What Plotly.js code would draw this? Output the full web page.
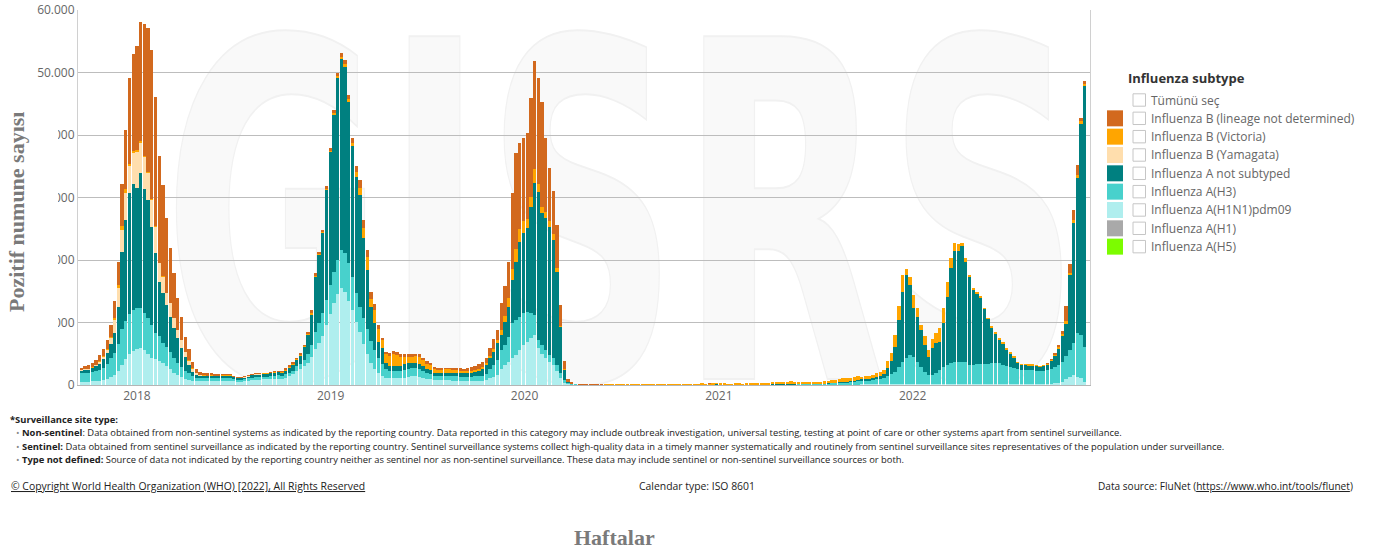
<!DOCTYPE html>
<html><head><meta charset="utf-8">
<script src="https://cdn.plot.ly/plotly-3.0.1.min.js"></script>
<style>html,body{margin:0;padding:0;background:#fff;}#chart{width:1373px;height:554px;}</style>
</head><body><div id="chart"></div>
<script>
// ISO weeks, first bar = 2017-W38 (Monday 2017-09-18), one value per week
const firstWeek = Date.UTC(2017, 8, 18);
const yearTickDates = ['2018-01-01','2019-01-01','2020-01-01','2021-01-01','2022-01-01'];
const yearTickLabels = ['2018','2019','2020','2021','2022'];

const h1n1pdm09 = [
500,500,500,600,600,700,800,1000,1300,1600,
2300,3200,4200,5000,5500,5800,5900,5600,5000,4300,
4100,3800,3500,3000,2500,2000,1600,1300,1000,800,
700,600,600,600,600,600,600,600,650,650,
650,600,550,550,600,700,800,850,850,900,
900,950,1000,1000,1000,1200,1400,1700,2200,2600,
3000,3600,4500,5800,6800,7800,9600,11300,13200,14600,
15500,14900,13500,12000,10100,8500,6600,5000,3500,2600,
2000,1500,1200,1100,1100,1100,1100,1200,1300,1400,
1400,1300,1200,1000,900,800,800,800,800,800,
700,700,600,600,600,600,600,600,700,800,
1100,1300,1600,2500,3200,3700,4300,4800,5600,6400,
6900,7500,8000,6000,5000,4400,3700,3200,2300,1200,
300,100,50,50,20,20,20,20,20,20,
20,10,10,10,10,10,10,10,10,10,
10,10,10,10,10,10,10,10,10,10,
10,10,10,10,10,10,10,10,10,10,
10,10,10,10,10,10,10,10,10,10,
10,10,10,10,10,10,10,10,10,10,
10,10,10,10,10,10,10,10,10,10,
10,10,20,20,30,30,40,50,60,80,
100,100,100,100,100,100,100,100,100,150,
200,200,200,200,200,200,200,200,150,150,
150,200,200,200,200,200,200,200,200,200,
200,200,200,200,200,200,200,200,200,200,
200,200,200,200,200,200,200,200,200,200,
200,200,300,400,500,1000,1300,1600,1300,1100,
500];

const h3 = [
1400,1500,1500,1500,1600,1700,2000,2400,3100,3600,
4200,5700,6100,6400,6500,6500,6400,6000,5800,5300,
4300,4000,3200,3100,2800,2300,1900,1600,1200,1100,
700,600,500,500,500,500,450,450,450,450,
450,350,300,300,300,350,400,400,400,400,
400,450,500,550,500,600,600,600,800,800,
1000,1400,1900,2700,3200,3700,4000,4700,4900,5400,
6100,6200,6000,5300,4600,4000,4100,4000,3500,3000,
2300,1900,1400,1200,1100,1100,1100,1200,1300,1300,
1300,1200,1100,1000,900,700,600,600,700,700,
700,700,700,700,700,700,800,800,800,900,
1500,1900,2400,3100,3200,4000,5600,5600,5300,5100,
4800,4000,3200,1200,1400,1200,1100,1100,900,700,
500,200,100,50,20,20,20,20,20,20,
20,20,20,20,20,20,20,20,20,20,
20,20,20,20,20,20,30,30,30,30,
30,30,30,30,30,30,30,30,30,30,
30,40,30,30,30,30,30,30,30,30,
30,30,30,30,30,30,50,50,50,50,
50,50,50,80,80,80,80,80,80,80,
150,200,250,250,300,350,350,400,450,500,
600,600,600,700,800,800,1000,1300,1600,1950,
2700,3500,4100,4600,4300,3500,2700,1900,1450,1450,
1750,2200,2700,3000,3300,3500,3500,3500,3500,3000,
3000,3100,3100,3100,3200,3300,3400,3300,3000,2900,
2700,2500,2300,2200,2200,2200,2200,2100,2000,2100,
2200,2400,2600,2800,3200,3600,4300,5100,7000,6900,
5600];

const aNotSubtyped = [
400,400,400,600,800,1000,1300,1700,2200,3200,
6000,12400,16100,19300,20200,19200,21600,19700,18800,15700,
12700,8700,8000,6700,5600,4800,4000,3000,2300,1300,
700,400,300,300,300,350,350,350,350,350,
350,300,250,250,300,300,350,400,400,450,
450,450,450,500,500,500,800,900,1000,1200,
2100,3000,4800,8800,10800,12800,17600,21300,25100,29100,
30500,29800,25800,20900,18600,17900,12800,9400,5500,4300,
2600,2500,900,800,900,900,900,900,900,800,
800,800,700,600,600,500,500,500,500,500,
500,500,600,600,600,700,700,800,1100,1500,
1700,2100,2700,2400,3700,4800,6900,9300,12000,12800,
13400,17000,21100,23700,21100,21100,20500,18900,14900,7400,
1600,200,50,50,30,30,30,30,30,30,
30,30,30,30,30,30,30,30,30,30,
30,30,30,30,30,30,30,30,30,30,
30,30,30,30,30,30,30,30,30,30,
30,40,30,30,30,30,30,30,30,30,
30,30,30,30,30,30,50,50,50,50,
50,50,50,50,50,50,50,50,50,50,
50,50,100,100,100,100,100,150,150,150,
200,200,300,300,400,500,600,1300,2200,4000,
7500,11200,13300,11200,7900,7200,5900,4300,2900,4300,
4800,4500,7000,10900,15200,17800,17800,18500,16000,14100,
12000,11300,10600,8800,7100,5600,4600,3700,3400,2500,
2100,1600,1000,800,800,700,700,700,700,700,
800,1200,1700,2600,4200,5100,12000,19300,24900,33800,
41700];

// B (Yamagata) is only reported until summer 2018
const bYamagata = [
100,100,100,100,200,300,400,500,900,2000,
3000,3500,4300,4300,4900,5800,4800,5200,4300,4300,
4200,3000,2600,1900,2200,1600,1300,1300,800,700,
500,300,200,100,50,50,50,50,50,50,
50,50,50,50,50,50,50,50,50,50,
50,50,50,50];

const bVictoria = [
50,50,50,50,50,100,100,100,200,400,
500,600,600,400,400,300,300,200,200,200,
200,100,100,100,100,100,50,50,50,50,
50,50,50,50,50,50,50,50,50,50,
50,50,50,50,50,50,50,50,50,50,
50,50,50,50,100,100,100,200,100,200,
100,200,300,200,200,200,200,200,300,300,
400,400,400,500,800,1200,1600,2100,1300,2100,
2100,1300,1500,1600,1800,1700,1400,1200,1000,1000,
1100,1200,1000,800,800,600,500,500,500,500,
500,500,400,300,300,300,300,300,300,300,
400,500,500,800,1000,1500,1800,2100,2100,1900,
1500,1600,2300,1200,1000,1000,1000,1000,600,200,
100,50,20,20,10,10,10,10,10,10,
10,30,30,30,30,30,30,30,30,30,
30,30,30,30,30,30,80,100,120,100,
130,150,120,140,150,130,150,180,150,170,
200,300,200,180,150,170,200,180,160,190,
210,200,180,220,250,280,300,350,380,400,
420,480,450,380,320,300,280,300,350,380,
400,450,450,500,550,600,600,600,650,650,
400,500,500,500,600,700,700,1200,1300,1900,
2200,2700,900,1300,2000,1400,800,1400,1100,1400,
1600,2200,2400,2400,1600,1200,1000,600,600,300,
300,300,300,300,300,300,300,300,300,300,
300,300,200,200,200,200,200,200,200,200,
200,200,200,300,300,500,300,400,400,400,
300];

const bNotDetermined = [
350,550,650,750,750,1000,1100,1500,1900,2600,
3700,6700,9500,13700,15500,16600,19100,21000,23000,23800,
20600,17000,14600,11900,8800,7100,5150,3650,2350,1750,
1050,650,400,450,400,350,300,300,250,250,
250,150,100,100,100,150,150,150,150,150,
150,150,150,150,200,300,300,300,200,300,
200,300,500,400,300,300,400,400,500,500,
700,700,700,800,900,1200,1300,1100,1100,1000,
600,400,300,500,500,500,500,500,500,400,
400,400,400,400,400,300,300,300,300,300,
300,400,400,400,500,600,600,800,800,900,
1200,1600,1600,4300,4700,5700,12200,15300,13800,13300,
13700,15900,17300,17100,16800,11900,8400,6900,6900,3300,
1400,450,200,30,20,20,20,20,20,20,
20,10,10,10,10,10,10,10,10,10,
10,10,10,10,10,10,10,10,10,10,
10,10,10,10,10,10,10,10,10,10,
10,10,0,0,0,0,0,0,0,0,
0,0,0,0,0,0,0,0,0,0,
0,0,0,0,0,0,0,0,0,0,
0,0,0,0,0,0,0,0,0,0,
0,0,0,0,0,0,0,0,0,0,
0,0,0,0,0,0,0,0,0,0,
0,0,0,0,0,0,0,0,0,0,
0,0,0,0,0,0,0,0,0,0,
0,0,0,0,0,0,0,0,0,0,
100,200,300,300,500,2400,1500,1600,1600,600,
600];

const legendNames = ['Tümünü seç','Influenza B (lineage not determined)','Influenza B (Victoria)','Influenza B (Yamagata)','Influenza A not subtyped','Influenza A(H3)','Influenza A(H1N1)pdm09','Influenza A(H1)','Influenza A(H5)'];
const legendColors = [null,'#D2691E','#FFA500','#FFDEAD','#008080','#48D1CC','#AFEEEE','#A9A9A9','#7CFC00'];

// week start dates (category axis values)
const weeks = h1n1pdm09.map((_, i) => new Date(firstWeek + i * 7 * 86400000).toISOString().slice(0, 10));

const stack = [
  {name:'Influenza A(H1N1)pdm09', y:h1n1pdm09, color:'#AFEEEE'},
  {name:'Influenza A(H3)', y:h3, color:'#48D1CC'},
  {name:'Influenza A not subtyped', y:aNotSubtyped, color:'#008080'},
  {name:'Influenza B (Yamagata)', y:bYamagata, color:'#FFDEAD'},
  {name:'Influenza B (Victoria)', y:bVictoria, color:'#FFA500'},
  {name:'Influenza B (lineage not determined)', y:bNotDetermined, color:'#D2691E'}
];
const traces = stack.map(s => ({
  type:'bar', name:s.name, x:weeks.slice(0, s.y.length), y:s.y,
  marker:{color:s.color, line:{width:0}}, showlegend:false, hoverinfo:'x+y+name'
}));

// pixel -> paper helpers (plot area 78..1090 x 10..385)
const L = 78, R = 1090, T = 10, B = 385;
const PX = x => (x - L) / (R - L);
const PY = y => (B - y) / (B - T);

const shapes = [];
const annotations = [];

// white box behind the rotated y title (hides part of tick labels as in source)
shapes.push({type:'rect', xref:'paper', yref:'paper', x0:PX(0), x1:PX(58), y0:PY(333), y1:PY(96),
  fillcolor:'#ffffff', line:{width:0}, layer:'above'});

// legend
annotations.push({xref:'paper', yref:'paper', x:PX(1126), y:PY(78), xanchor:'left', yanchor:'middle',
  text:'<b>Influenza subtype</b>', showarrow:false, font:{family:'Open Sans', size:13, color:'#333'}});
legendNames.forEach((nm, k) => {
  const yc = 100 + k * 18.33;
  if (legendColors[k]) {
    shapes.push({type:'rect', xref:'paper', yref:'paper', x0:PX(1107), x1:PX(1123), y0:PY(yc + 8), y1:PY(yc - 8),
      fillcolor:legendColors[k], line:{width:0}, layer:'above'});
  }
  shapes.push({type:'rect', xref:'paper', yref:'paper', x0:PX(1133), x1:PX(1145.5), y0:PY(yc + 6.2), y1:PY(yc - 6.2),
    fillcolor:'#ffffff', line:{width:1, color:'#c6c6c6'}, layer:'above'});
  annotations.push({xref:'paper', yref:'paper', x:PX(1149), y:PY(yc), xanchor:'left', yanchor:'middle',
    text:nm, showarrow:false, font:{family:'Open Sans', size:12, color:'#666'}});
});

// axis titles
annotations.push({xref:'paper', yref:'paper', x:PX(17), y:PY(212), xanchor:'center', yanchor:'middle', textangle:-90,
  text:'<b>Pozitif numune sayısı</b>', showarrow:false, font:{family:'Liberation Serif', size:22, color:'#7a7a7a'}});
annotations.push({xref:'paper', yref:'paper', x:PX(614), y:PY(537), xanchor:'center', yanchor:'middle',
  text:'<b>Haftalar</b>', showarrow:false, font:{family:'Liberation Serif', size:22, color:'#7a7a7a'}});

// footnotes
const fn = {family:'Open Sans', size:9.4, color:'#222'};
const note = (x, y, text) => annotations.push({xref:'paper', yref:'paper', x:PX(x), y:PY(y),
  xanchor:'left', yanchor:'middle', text, showarrow:false, font:fn});
note(8, 419, '<b>*Surveillance site type:</b>');
note(14, 432.5, '<span style="color:#888">•</span> <b>Non-sentinel</b>: Data obtained from non-sentinel systems as indicated by the reporting country. Data reported in this category may include outbreak investigation, universal testing, testing at point of care or other systems apart from sentinel surveillance.');
note(14, 446, '<span style="color:#888">•</span> <b>Sentinel:</b> Data obtained from sentinel surveillance as indicated by the reporting country. Sentinel surveillance systems collect high-quality data in a timely manner systematically and routinely from sentinel surveillance sites representatives of the population under surveillance.');
note(14, 459.5, '<span style="color:#888">•</span> <b>Type not defined:</b> Source of data not indicated by the reporting country neither as sentinel nor as non-sentinel surveillance. These data may include sentinel or non-sentinel surveillance sources or both.');
const fb = {family:'Open Sans', size:10.4, color:'#222'};
annotations.push({xref:'paper', yref:'paper', x:PX(9), y:PY(486), xanchor:'left', yanchor:'middle', showarrow:false, font:fb,
  text:'<span style="text-decoration:underline">© Copyright World Health Organization (WHO) [2022], All Rights Reserved</span>'});
annotations.push({xref:'paper', yref:'paper', x:PX(697), y:PY(486), xanchor:'center', yanchor:'middle', showarrow:false, font:fb,
  text:'Calendar type: ISO 8601'});
annotations.push({xref:'paper', yref:'paper', x:PX(1355), y:PY(486), xanchor:'right', yanchor:'middle', showarrow:false,
  font:{family:'Open Sans', size:10.1, color:'#222'},
  text:'Data source: FluNet (<span style="text-decoration:underline">https://www.who.int/tools/flunet</span>)'});

// very faint GISRS watermark behind the bars
const wm = '<svg xmlns="http://www.w3.org/2000/svg" width="1012" height="375" viewBox="0 0 1012 375">' +
  '<text x="85" y="369" font-family="DejaVu Sans" font-weight="bold" font-size="470" textLength="918" lengthAdjust="spacingAndGlyphs" fill="#f9f9f9" stroke="#f1f1f1" stroke-width="2">GISRS</text></svg>';

const layout = {
  width:1373, height:554,
  margin:{l:L, r:1373 - R, t:T, b:554 - B, pad:0},
  paper_bgcolor:'#ffffff', plot_bgcolor:'rgba(0,0,0,0)',
  separators:',.',
  barmode:'stack', bargap:0.1,
  font:{family:'Open Sans', size:12, color:'#666'},
  xaxis:{type:'date', range:['2017-09-12','2022-12-01'], tickvals:yearTickDates, ticktext:yearTickLabels,
    showgrid:false, showline:true, linecolor:'#b5b5b5', linewidth:1, ticks:'', zeroline:false,
    tickfont:{family:'Open Sans', size:12, color:'#666'}},
  yaxis:{range:[0, 60000], dtick:10000, tickformat:',d', showgrid:true, gridcolor:'#bdbdbd', gridwidth:1,
    showline:true, mirror:true, linecolor:'#d0d0d0', linewidth:1, zeroline:false, ticks:'',
    tickfont:{family:'Open Sans', size:12, color:'#666'}},
  images:[{source:'data:image/svg+xml;charset=utf-8,' + encodeURIComponent(wm), xref:'paper', yref:'paper',
    x:0, y:1, sizex:1, sizey:1, xanchor:'left', yanchor:'top', sizing:'stretch', layer:'below'}],
  shapes, annotations, showlegend:false
};

Plotly.newPlot('chart', traces, layout, {displayModeBar:false, staticPlot:true});
</script>
</body></html>
